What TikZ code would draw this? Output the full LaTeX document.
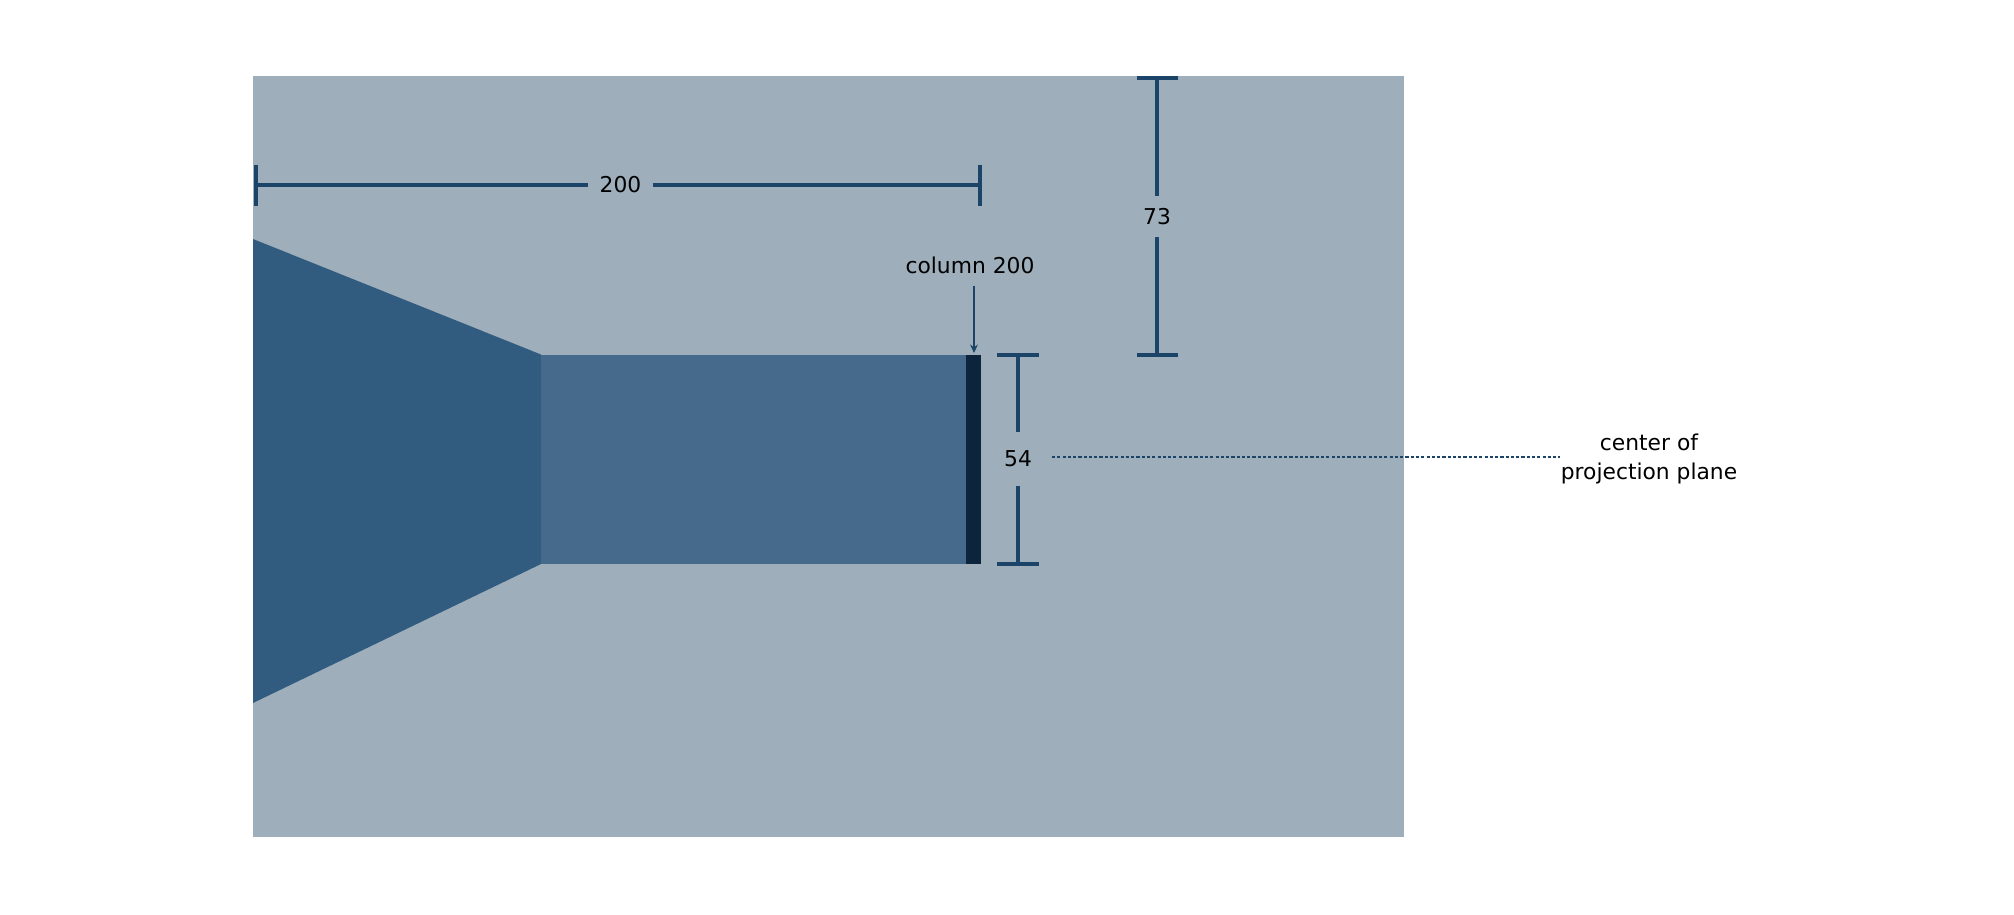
\documentclass[tikz,border=0pt]{standalone}
\usepackage{fontspec}
\setmainfont{DejaVu Sans}
\usetikzlibrary{arrows.meta, positioning}
\definecolor{slate}{HTML}{9EAFBB}
\definecolor{frustum}{HTML}{315C80}
\definecolor{raybox}{HTML}{466A8B}
\definecolor{navy}{HTML}{0C253C}
\definecolor{dimline}{HTML}{1B4468}
\tikzset{
  dim/.style={draw=dimline, line width=0.95pt},
  dimlabel/.style={font=\fontsize{6.2}{8}\selectfont, inner xsep=3pt, inner ysep=3.3pt},
  pointer/.style={-{Stealth[length=2.4pt, width=2.2pt]}, draw=dimline, line width=0.6pt},
  dotline/.style={draw=dimline, line width=0.6pt, dash pattern=on 0.9pt off 0.6pt},
  note/.style={font=\fontsize{6.2}{8}\selectfont, align=center, inner sep=0pt},
}

\begin{document}
\begin{tikzpicture}[x=0.01cm, y=-0.01cm]
\useasboundingbox (0,0) rectangle (2014,914);
% view area and rays
\fill[slate] (253,76) rectangle (1404,837);
\fill[frustum] (253,239) -- (541,354.5) -- (541,564) -- (253,703) -- cycle;
\fill[raybox] (541,354.5) rectangle (966,564);
\fill[navy] (966,354.5) rectangle (981,564);

% width 200
\coordinate (w0) at (256,185);
\coordinate (w1) at (980,185);
\node[dimlabel] (wlbl) at (620.5,185) {200};
\draw[dim] (w0) -- (wlbl.west) (wlbl.east) -- (w1);
\draw[dim] (w0) ++(0,-20.5) -- ++(0,41);
\draw[dim] (w1) ++(0,-20.5) -- ++(0,41);

% height 73
\coordinate (h0) at (1157,78);
\coordinate (h1) at (1157,355);
\node[dimlabel] (hlbl) at (1157,216.5) {73};
\draw[dim] (h0) -- (hlbl.north) (hlbl.south) -- (h1);
\draw[dim] (h0) ++(-20.5,0) -- ++(41,0);
\draw[dim] (h1) ++(-20.5,0) -- ++(41,0);

% slice 54
\coordinate (s0) at (1018,355);
\coordinate (s1) at (1018,564);
\node[dimlabel, inner ysep=5.1pt] (slbl) at (1018,459) {54};
\draw[dim] (s0) -- (slbl.north) (slbl.south) -- (s1);
\draw[dim] (s0) ++(-21,0) -- ++(42,0);
\draw[dim] (s1) ++(-21,0) -- ++(42,0);

% column marker
\node[dimlabel] (col) at (970,265) {column 200};
\coordinate (coltip) at (974,353);
\draw[pointer] (col.south -| coltip) -- (coltip);

% center line
\node[note] (cop) at (1649,459) {center of\\projection plane};
\coordinate (d0) at (1052,457);
\draw[dotline] (d0) -- (d0 -| cop.west);
\end{tikzpicture}
\end{document}
